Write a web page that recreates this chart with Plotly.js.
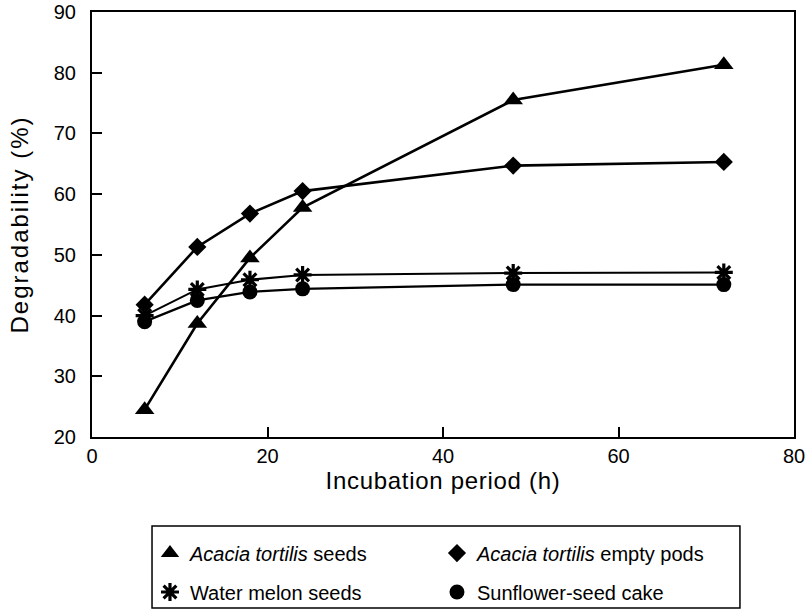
<!DOCTYPE html>
<html>
<head>
<meta charset="utf-8">
<script src="https://cdn.plot.ly/plotly-3.0.1.min.js"></script>
<style>
body{margin:0;padding:0;background:#fff;}
#chart{width:805px;height:610px;}
.ytitle{letter-spacing:2px;}
.xtitle{letter-spacing:0.7px;}
</style>
</head>
<body>
<div id="chart"></div>
<script>
const hours = [6, 12, 18, 24, 48, 72];
const acaciaSeeds = [24.5, 38.7, 49.5, 57.8, 75.5, 81.3];
const acaciaPods = [41.8, 51.3, 56.8, 60.5, 64.7, 65.3];
const waterMelon = [40.0, 44.3, 45.9, 46.7, 47.0, 47.1];
const sunflower = [39.0, 42.5, 43.9, 44.4, 45.1, 45.1];
const seriesNames = ['<i>Acacia tortilis</i> seeds', '<i>Acacia tortilis</i> empty pods', 'Water melon seeds', 'Sunflower-seed cake'];
const xTicks = [0, 20, 40, 60, 80];
const yTicks = [20, 30, 40, 50, 60, 70, 80, 90];

const seriesValues = [acaciaSeeds, acaciaPods, waterMelon, sunflower];
const lineWidths = [2.6, 2.6, 2, 2.2];
const markerStyles = [
  {symbol: 'triangle-up', size: 17, color: '#000'},
  {symbol: 'diamond', size: 14, color: '#000'},
  {symbol: 'asterisk-open', size: 15, color: '#000', line: {color: '#000', width: 3.2}},
  {symbol: 'circle', size: 15, color: '#000'}
];
const legendIds = ['legend', 'legend', 'legend2', 'legend2'];

const traces = [];
seriesValues.forEach((vals, i) => {
  traces.push({x: hours, y: vals, mode: 'lines', showlegend: false, hoverinfo: 'skip',
    line: {color: '#000', width: lineWidths[i]}});
});
seriesValues.forEach((vals, i) => {
  traces.push({x: hours, y: vals, name: seriesNames[i], mode: 'markers',
    marker: markerStyles[i], legend: legendIds[i]});
});

const legendCommon = {
  orientation: 'h', xanchor: 'left', yanchor: 'middle',
  xref: 'container', yref: 'container',
  borderwidth: 0, bgcolor: 'rgba(0,0,0,0)',
  entrywidth: 242, entrywidthmode: 'pixels',
  font: {size: 20, color: '#000'}, itemwidth: 30
};

const layout = {
  width: 805, height: 610,
  margin: {l: 92, r: 11, t: 12, b: 173},
  paper_bgcolor: '#fff', plot_bgcolor: '#fff',
  font: {family: 'Liberation Sans, Arial, sans-serif', color: '#000', size: 20},
  showlegend: true,
  xaxis: {
    range: [0, 80], tickvals: xTicks, ticks: 'inside', ticklen: 10, tickwidth: 2, tickcolor: '#000',
    showline: true, linewidth: 2, linecolor: '#000', mirror: true, showgrid: false, zeroline: false,
    tickfont: {size: 20}, ticklabelstandoff: 0, ticklabeloverflow: 'allow',
    title: {text: 'Incubation period (h)', font: {size: 24}, standoff: 6}
  },
  yaxis: {
    range: [20, 90], tickvals: yTicks, ticks: 'inside', ticklen: 10, tickwidth: 2, tickcolor: '#000',
    showline: true, linewidth: 2, linecolor: '#000', mirror: true, showgrid: false, zeroline: false,
    tickfont: {size: 20}, ticklabelstandoff: 10,
    title: {text: 'Degradability (%)', font: {size: 24}, standoff: 18}
  },
  legend: Object.assign({}, legendCommon, {x: 0.1863, y: 0.0934}),
  legend2: Object.assign({}, legendCommon, {x: 0.1863, y: 0.0295}),
  shapes: [{type: 'rect', xref: 'paper', yref: 'paper',
    x0: 0.0855, x1: 0.923, y0: -0.4024, y1: -0.2094,
    line: {color: '#000', width: 1.5}, fillcolor: 'rgba(0,0,0,0)'}]
};

Plotly.newPlot('chart', traces, layout, {displayModeBar: false, staticPlot: true});
</script>
</body>
</html>
